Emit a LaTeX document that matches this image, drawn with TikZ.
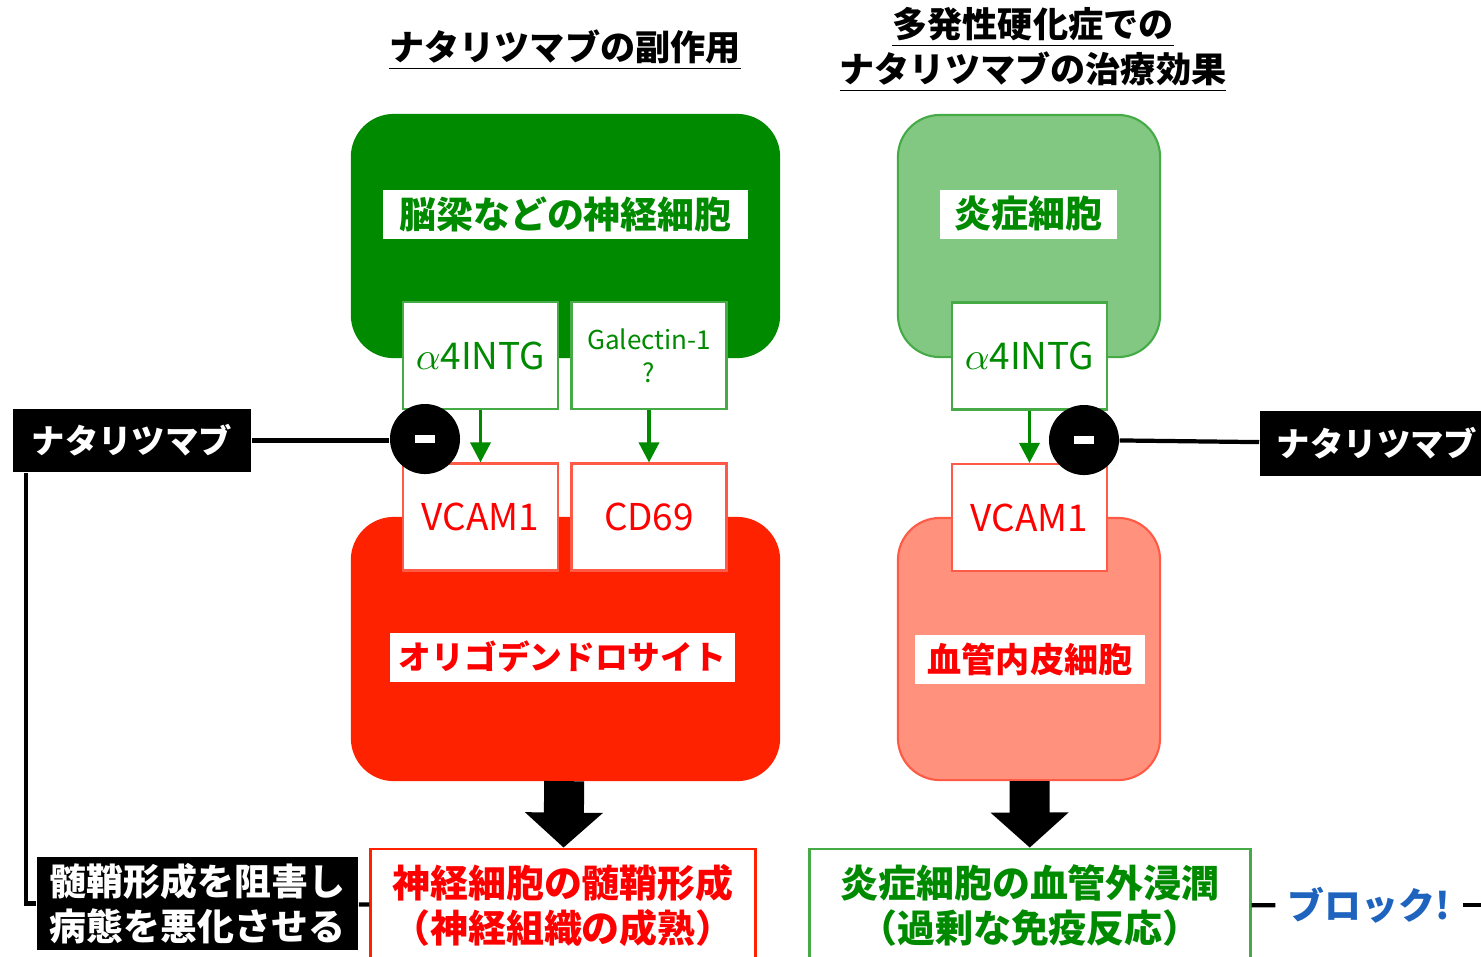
\documentclass[tikz,border=0pt]{standalone}
\usepackage{fontspec}
\setmainfont{Noto Sans CJK JP}
\usetikzlibrary{arrows.meta}
\definecolor{dgreen}{RGB}{0,138,0}
\definecolor{lgreen}{RGB}{130,200,130}
\definecolor{mgreen}{RGB}{70,170,70}
\definecolor{cellred}{RGB}{255,34,0}
\definecolor{salmon}{RGB}{255,145,125}
\definecolor{lred}{RGB}{255,90,70}
\definecolor{blockblue}{RGB}{30,100,190}
\begin{document}
\begin{tikzpicture}[x=0.01cm,y=-0.01cm,
  cellbox/.style={rounded corners=0.42cm,draw,line width=0.6pt,minimum height=2.42cm},
  glowlabel/.style={fill=white,inner sep=0pt,minimum height=0.49cm,font=\bfseries\fontsize{10.5}{12}\selectfont},
  molbox/.style={fill=white,draw,line width=0.6pt,minimum width=1.55cm,minimum height=1.07cm,align=center,font=\fontsize{10.5}{12}\selectfont},
  blackbox/.style={fill=black,text=white,inner sep=0pt,align=center},
  minus/.style={circle,fill=black,minimum size=0.7cm,inner sep=0pt},
  resultbox/.style={draw,fill=white,line width=0.8pt,minimum height=1.13cm,align=center,font=\bfseries\fontsize{10.8}{12.8}\selectfont},
  link/.style={line width=1.2pt},
  greenarrow/.style={dgreen,line width=1pt,-{Triangle[width=0.2cm,length=0.2cm]}},
  bigarrow/.style={line width=0.4cm,-{Triangle[width=0.76cm,length=0.35cm]}},
  title/.style={align=center,inner sep=0pt,font=\bfseries\fontsize{10}{12.8}\selectfont}]
\useasboundingbox (0,0) rectangle (1481,956);

% titles
\node[title] (titleL) at (565,50) {\underline{ナタリツマブの副作用}};
\node[title] (titleR) at (1033,50) {\underline{多発性硬化症での}\\\underline{ナタリツマブの治療効果}};

% cells
\node[cellbox,fill=dgreen,draw=dgreen,minimum width=4.27cm] (neuron) at (565.5,236) {};
\node[cellbox,fill=cellred,draw=cellred,minimum width=4.27cm,minimum height=2.62cm] (oligo) at (565.5,649) {};
\node[cellbox,fill=lgreen,draw=mgreen,minimum width=2.62cm] (inflam) at (1029,236) {};
\node[cellbox,fill=salmon,draw=lred,minimum width=2.62cm,minimum height=2.62cm] (endo) at (1029,649) {};

\node[glowlabel,text=dgreen,minimum width=3.65cm] (neuronlab) at (565.5,214) {脳梁などの神経細胞};
\node[glowlabel,text=dgreen,minimum width=1.77cm] (inflamlab) at (1028.5,214) {炎症細胞};
\node[glowlabel,text=red,minimum width=3.45cm,font=\bfseries\fontsize{9.3}{12}\selectfont] (oligolab) at (562.5,657) {オリゴデンドロサイト};
\node[glowlabel,text=red,minimum width=2.30cm,font=\bfseries\fontsize{9.7}{12}\selectfont] (endolab) at (1030,659) {血管内皮細胞};

% molecules
\node[molbox,draw=mgreen,text=dgreen] (intgL) at (480.5,355.5) {$\alpha$4INTG};
\node[molbox,draw=mgreen,text=dgreen,font=\fontsize{7.4}{9.5}\selectfont] (galectin) at (649,355.5) {Galectin-1\\?};
\node[molbox,draw=lred,text=red] (vcamL) at (480.5,517) {VCAM1};
\node[molbox,draw=lred,text=red] (cd69) at (649,517) {CD69};
\node[molbox,draw=mgreen,text=dgreen] (intgR) at (1029.5,356) {$\alpha$4INTG};
\node[molbox,draw=lred,text=red] (vcamR) at (1029.5,517.5) {VCAM1};

\draw[greenarrow] (intgL) -- (vcamL);
\draw[greenarrow] (galectin) -- (cd69);
\draw[greenarrow] (intgR) -- (vcamR);

% natalizumab
\node[blackbox,minimum width=2.38cm,minimum height=0.63cm,font=\bfseries\fontsize{9.5}{12}\selectfont] (drugL) at (132,440.5) {ナタリツマブ};
\node[blackbox,minimum width=2.34cm,minimum height=0.65cm,font=\bfseries\fontsize{9.5}{12}\selectfont] (drugR) at (1377,443.5) {ナタリツマブ};
\node[minus] (blockL) at (425,439) {\color{white}\rule{0.2cm}{0.08cm}};
\node[minus] (blockR) at (1084,440) {\color{white}\rule{0.2cm}{0.08cm}};
\draw[link] (drugL) -- (drugL -| blockL.west);
\draw[link] (drugR) -- (blockR);

% outcomes
\node[resultbox,draw=cellred,text=red,minimum width=3.84cm] (myelin) at (563,905.5) {神経細胞の髄鞘形成\\（神経組織の成熟）};
\node[resultbox,draw=mgreen,text=dgreen,minimum width=4.40cm] (infil) at (1030,905.5) {炎症細胞の血管外浸潤\\（過剰な免疫反応）};
\draw[bigarrow] (oligo) -- (myelin);
\draw[bigarrow] (endo) -- (infil);

\node[blackbox,minimum width=3.21cm,minimum height=0.93cm,font=\bfseries\fontsize{10.5}{12.8}\selectfont] (worse) at (197.5,903.5) {髄鞘形成を阻害し\\病態を悪化させる};
\draw[link] ([xshift=0.14cm]drugL.south west) |- (worse);
\draw[link] (worse) -- (myelin);

\node[text=blockblue,font=\bfseries\fontsize{10.5}{12}\selectfont] (block) at (1369,905) {ブロック!};
\coordinate (edge) at (1481,905);
\draw[link] (infil) -- (block);
\draw[link] (block) -- (edge);
\end{tikzpicture}
\end{document}
